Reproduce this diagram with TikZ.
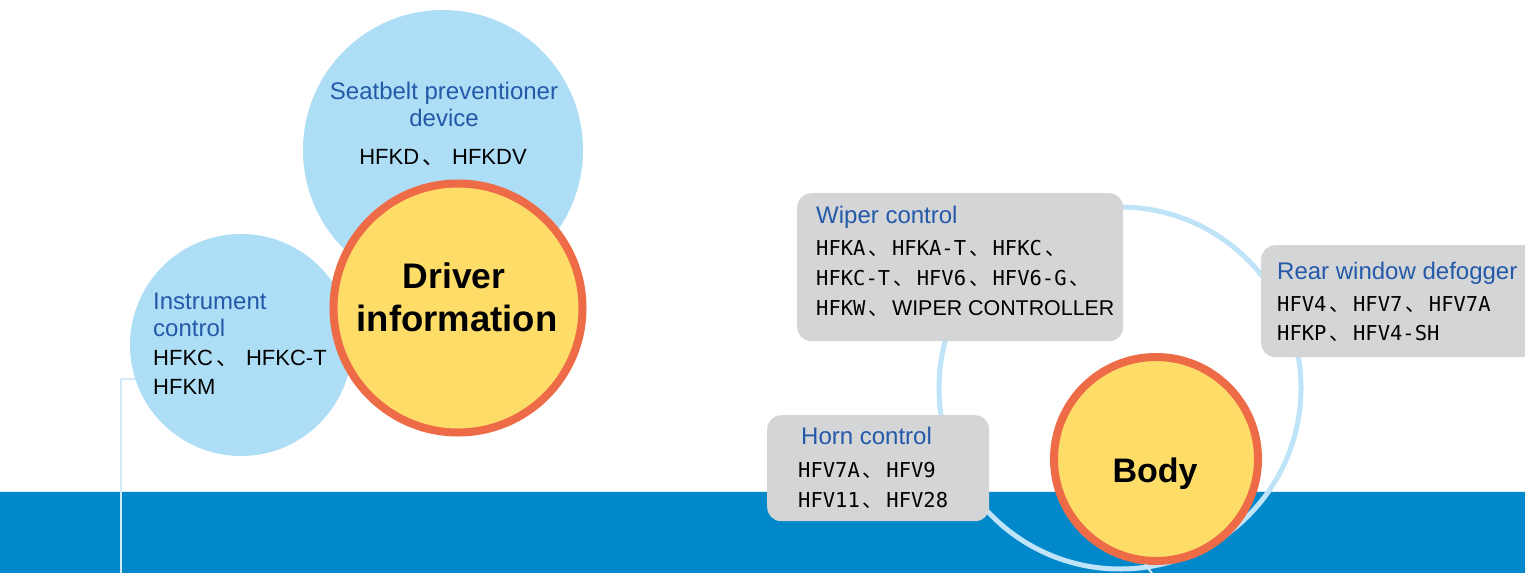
\documentclass[tikz,border=0pt]{standalone}
\usepackage{fontspec}
\setmainfont{Liberation Sans}
\newfontfamily\monof{DejaVu Sans Mono}
\newfontfamily\cjk{Noto Sans CJK SC}
\newcommand\dn{\hspace{3pt}{\cjk 、}\hspace{3pt}}
\newcommand\dnp{\hspace{3pt}{\cjk 、}\hspace{8pt}}
\definecolor{bandblue}{HTML}{0088CA}
\definecolor{bandedge}{HTML}{D6ECF8}
\definecolor{bubblecol}{HTML}{ADDEF5}
\definecolor{ringcol}{HTML}{BFE3F7}
\definecolor{hubfill}{HTML}{FDDC68}
\definecolor{hubline}{HTML}{EE6B47}
\definecolor{cardgray}{HTML}{D4D5D7}
\definecolor{labelblue}{HTML}{2459A9}
\definecolor{linkcol}{HTML}{D2EAF8}
\begin{document}
\begin{tikzpicture}[x=1pt,y=-1pt,
  bubble/.style={circle, fill=bubblecol, inner sep=0pt, minimum size=#1},
  hub/.style={circle, fill=hubfill, draw=hubline, line width=8pt, inner sep=0pt, minimum size=#1},
  card/.style={rounded corners=14pt, fill=cardgray, inner sep=0pt, anchor=north west},
  lbl/.style={anchor=base west, inner sep=0pt, text=labelblue, font=\fontsize{24}{28}\selectfont},
  clbl/.style={lbl, anchor=base},
  plain/.style={anchor=base west, inner sep=0pt, font=\fontsize{22}{25}\selectfont},
  code/.style={anchor=base west, inner sep=0pt, font=\monof\fontsize{20.5}{25}\selectfont},
  hubtext/.style={anchor=base, inner sep=0pt, font=\bfseries\fontsize{#1}{#1}\selectfont},
  connector/.style={draw=linkcol, line width=2pt}
]
\useasboundingbox (0,0) rectangle (1525,573);
% background band
\fill[bandblue] (0,492) rectangle (1525,573);
\draw[bandedge, line width=1.2pt] (0,491.5) -- (1525,491.5);

% ---- Driver information cluster
\node[bubble=280pt] (seat) at (443,150) {};
\node[bubble=222pt] (inst) at (241,345) {};
\node[hub=249pt] (driver) at (458,308) {};

\node[clbl] (seatl1) at (444,99) {Seatbelt preventioner};
\node[clbl] (seatl2) at (444,126) {device};
\node[plain, anchor=base] (seatc1) at (443,164) {HFKD\dnp HFKDV};

\node[hubtext=35.5] (drv1) at (454,288) {Driver};
\node[hubtext=36.5] (drv2) at (457,331) {information};

\node[lbl] (instl1) at (153,309) {Instrument};
\node[lbl] (instl2) at (153,336) {control};
\node[plain] (instc1) at (153,365) {HFKC\dnp HFKC-T};
\node[plain] (instc2) at (153,394) {HFKM};

\coordinate (instfoot) at (121,573);
\draw[connector] (inst.198) -| (instfoot);

% ---- Body cluster
\node[circle, draw=ringcol, line width=5pt, inner sep=0pt, minimum size=362pt] (ring) at (1120,388) {};

\node[card, minimum width=326pt, minimum height=148pt] (wiper) at (797,193) {};
\node[card, minimum width=280pt, minimum height=112pt] (rear) at (1261,245) {};
\node[card, minimum width=222pt, minimum height=106pt] (horn) at (767,415) {};

\node[lbl] (wipl) at (816,223) {Wiper control};
\node[code] (wipc1) at (816,255) {HFKA\dn HFKA-T\dn HFKC\dn};
\node[code] (wipc2) at (816,285) {HFKC-T\dn HFV6\dn HFV6-G\dn};
\node[code] (wipc3) at (816,315) {HFKW\dn{\rmfamily\fontsize{21.4}{25}\selectfont WIPER CONTROLLER}};

\node[lbl] (rearl) at (1277,279) {Rear window defogger};
\node[code] (rearc1) at (1277,311) {HFV4\dn HFV7\dn HFV7A};
\node[code] (rearc2) at (1277,340) {HFKP\dn HFV4-SH};

\node[lbl] (hornl) at (801,444) {Horn control};
\node[code] (hornc1) at (798,477) {HFV7A\dn HFV9};
\node[code] (hornc2) at (798,507) {HFV11\dn HFV28};

\node[hub=204pt] (body) at (1156,459) {};
\node[hubtext=34] (bodyt) at (1155,482) {Body};
\coordinate (bodyfoot) at (1152,573);
\draw[connector] (body.264) -- (bodyfoot);
\end{tikzpicture}
\end{document}
